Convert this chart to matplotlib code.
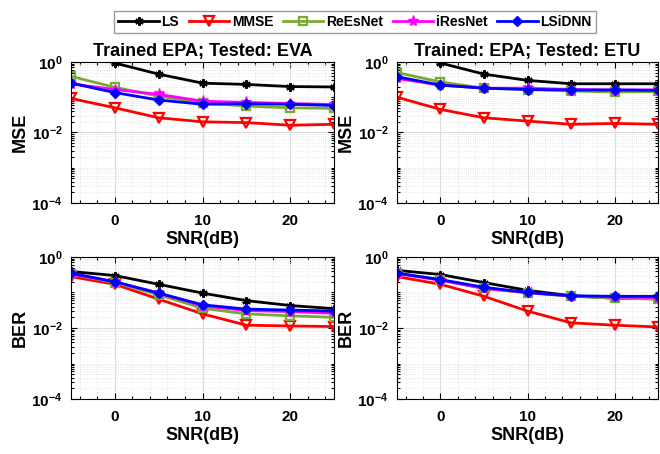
import numpy as np
import matplotlib
matplotlib.use("Agg")
import matplotlib.pyplot as plt
from matplotlib.ticker import FixedLocator, MultipleLocator, NullFormatter

plt.rcParams['font.family'] = ['Liberation Sans', 'DejaVu Sans']
plt.rcParams['font.weight'] = 'bold'
plt.rcParams['mathtext.fontset'] = 'custom'
plt.rcParams['mathtext.rm'] = 'Liberation Sans:bold'
plt.rcParams['mathtext.bf'] = 'Liberation Sans:bold'
plt.rcParams['mathtext.default'] = 'bf'

snr = [-5, 0, 5, 10, 15, 20, 25]
methods = ['LS', 'MMSE', 'ReEsNet', 'iResNet', 'LSiDNN']

# MSE, trained EPA / tested EVA
mse_eva = {
    'LS':      [2.0, 0.93, 0.45, 0.25, 0.23, 0.20, 0.195],
    'MMSE':    [0.092, 0.050, 0.026, 0.020, 0.019, 0.016, 0.017],
    'ReEsNet': [0.39, 0.19, 0.107, 0.069, 0.056, 0.050, 0.048],
    'iResNet': [0.24, 0.165, 0.12, 0.077, 0.071, 0.066, 0.062],
    'LSiDNN':  [0.25, 0.135, 0.083, 0.063, 0.065, 0.063, 0.058],
}
# MSE, trained EPA / tested ETU
mse_etu = {
    'LS':      [2.0, 0.93, 0.45, 0.30, 0.24, 0.24, 0.24],
    'MMSE':    [0.10, 0.045, 0.026, 0.021, 0.017, 0.018, 0.017],
    'ReEsNet': [0.50, 0.27, 0.18, 0.165, 0.15, 0.14, 0.145],
    'iResNet': [0.34, 0.22, 0.18, 0.18, 0.165, 0.16, 0.16],
    'LSiDNN':  [0.38, 0.22, 0.18, 0.165, 0.16, 0.16, 0.157],
}
# BER, EVA
ber_eva = {
    'LS':      [0.39, 0.30, 0.17, 0.096, 0.059, 0.043, 0.035],
    'MMSE':    [0.28, 0.17, 0.065, 0.025, 0.012, 0.0114, 0.011],
    'ReEsNet': [0.33, 0.19, 0.086, 0.036, 0.025, 0.022, 0.020],
    'iResNet': [0.33, 0.20, 0.096, 0.042, 0.031, 0.029, 0.026],
    'LSiDNN':  [0.35, 0.20, 0.096, 0.045, 0.034, 0.032, 0.030],
}
# BER, ETU
ber_etu = {
    'LS':      [0.42, 0.32, 0.19, 0.115, 0.081, 0.069, 0.066],
    'MMSE':    [0.28, 0.17, 0.078, 0.030, 0.014, 0.012, 0.0107],
    'ReEsNet': [0.35, 0.23, 0.13, 0.097, 0.079, 0.069, 0.066],
    'iResNet': [0.34, 0.22, 0.13, 0.10, 0.079, 0.074, 0.072],
    'LSiDNN':  [0.35, 0.23, 0.14, 0.10, 0.081, 0.078, 0.078],
}

styles = {
    'LS':      dict(color='black', marker=(6, 2, 0), ms=6, mfc='black', mew=1.6),
    'MMSE':    dict(color='#ff0000', marker='v', ms=7, mfc='none', mew=1.6),
    'ReEsNet': dict(color='#77ac30', marker='s', ms=6, mfc='none', mew=1.6),
    'iResNet': dict(color='#ff00ff', marker='*', ms=8, mfc='#ff00ff', mew=1.0),
    'LSiDNN':  dict(color='#0000ff', marker='D', ms=5.5, mfc='#0000ff', mew=1.0),
}

fig = plt.figure(figsize=(6.6, 4.54), dpi=100)
positions = [
    [0.1076, 0.553, 0.3985, 0.3106],
    [0.6015, 0.553, 0.3955, 0.3106],
    [0.1076, 0.121, 0.3985, 0.313],
    [0.6015, 0.121, 0.3955, 0.313],
]
panels = [
    (mse_eva, 'MSE', 'Trained EPA; Tested: EVA'),
    (mse_etu, 'MSE', 'Trained: EPA; Tested: ETU'),
    (ber_eva, 'BER', None),
    (ber_etu, 'BER', None),
]

handles = []
for i, (pos, (data, ylab, title)) in enumerate(zip(positions, panels)):
    ax = fig.add_axes(pos)
    for m in methods:
        h, = ax.semilogy(snr, data[m], lw=2.0, label=m, **styles[m])
        if i == 0:
            handles.append(h)
    ax.set_xlim(-5, 25)
    ax.set_ylim(1e-4, 1)
    ax.xaxis.set_major_locator(FixedLocator([0, 10, 20]))
    ax.xaxis.set_minor_locator(MultipleLocator(2))
    ax.yaxis.set_major_locator(FixedLocator([1e-4, 1e-2, 1]))
    minors = [k * 10.0 ** e for e in range(-4, 0) for k in range(1, 10)]
    ax.yaxis.set_minor_locator(FixedLocator(minors))
    ax.yaxis.set_minor_formatter(NullFormatter())
    ax.set_yticklabels(['$10^{-4}$', '$10^{-2}$', '$10^{0}$'])
    ax.tick_params(which='both', direction='in', top=True, right=True,
                   labelsize=11, width=0.8)
    ax.tick_params(axis='x', which='major', length=4, pad=8)
    ax.tick_params(axis='y', which='major', length=4, pad=6)
    ax.tick_params(which='minor', length=2)
    ax.grid(True, which='major', color='#dcdcdc', lw=0.8)
    ax.grid(True, which='minor', color='#e0e0e0', lw=0.6, ls=':')
    for s in ax.spines.values():
        s.set_linewidth(0.8)
    ax.set_xlabel('SNR(dB)', fontsize=13, fontweight='bold', labelpad=2)
    ax.set_ylabel(ylab, fontsize=13, fontweight='bold', labelpad=2)
    if title:
        ax.set_title(title, fontsize=13, fontweight='bold', pad=4)

fig.legend(handles=handles, loc='upper center', ncol=5,
           bbox_to_anchor=(355 / 660, 1 - 11 / 454), fontsize=10,
           frameon=True, fancybox=False, edgecolor='#808080',
           handlelength=2.9, columnspacing=0.7, handletextpad=0.2,
           borderpad=0.3, borderaxespad=0)

fig.savefig('out.png', dpi=100)
